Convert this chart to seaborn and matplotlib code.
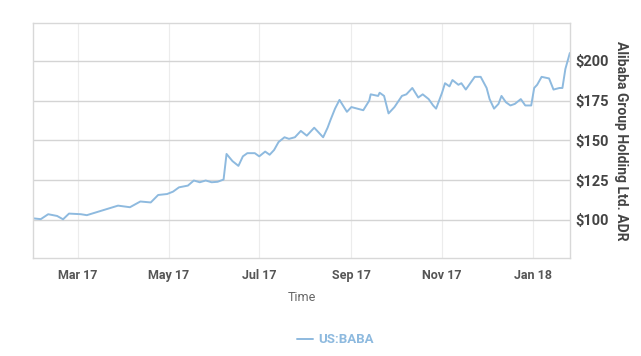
import pandas as pd
import matplotlib
matplotlib.use("Agg")
import matplotlib.pyplot as plt
import matplotlib.dates as mdates
from matplotlib.ticker import FixedLocator, FuncFormatter
import seaborn as sns

# values (US:BABA close, USD)
dates = ["2017-01-30", "2017-02-04", "2017-02-09", "2017-02-15", "2017-02-19", "2017-02-23",
         "2017-03-03", "2017-03-07", "2017-03-14", "2017-03-21", "2017-03-28", "2017-04-05",
         "2017-04-12", "2017-04-19", "2017-04-24", "2017-04-30", "2017-05-04", "2017-05-08",
         "2017-05-14", "2017-05-18", "2017-05-22", "2017-05-26", "2017-05-30", "2017-06-03",
         "2017-06-07", "2017-06-09", "2017-06-13", "2017-06-17", "2017-06-20", "2017-06-23",
         "2017-06-28", "2017-07-01", "2017-07-05", "2017-07-08", "2017-07-11", "2017-07-14",
         "2017-07-18", "2017-07-21", "2017-07-25", "2017-07-29", "2017-08-02", "2017-08-07",
         "2017-08-13", "2017-08-16", "2017-08-18", "2017-08-21", "2017-08-24", "2017-08-29",
         "2017-09-01", "2017-09-09", "2017-09-13", "2017-09-14", "2017-09-19", "2017-09-20",
         "2017-09-23", "2017-09-26", "2017-09-30", "2017-10-05", "2017-10-08", "2017-10-12",
         "2017-10-16", "2017-10-19", "2017-10-23", "2017-10-26", "2017-10-28", "2017-11-01",
         "2017-11-03", "2017-11-06", "2017-11-08", "2017-11-12", "2017-11-14", "2017-11-17",
         "2017-11-20", "2017-11-23", "2017-11-27", "2017-12-01", "2017-12-03", "2017-12-06",
         "2017-12-09", "2017-12-11", "2017-12-14", "2017-12-17", "2017-12-20", "2017-12-24",
         "2017-12-27", "2017-12-31", "2018-01-02", "2018-01-04", "2018-01-07", "2018-01-12",
         "2018-01-15", "2018-01-19", "2018-01-21", "2018-01-23", "2018-01-26"]
prices = [101.0, 100.5, 103.6, 102.5, 100.4, 104.0,
          103.6, 103.0, 105.0, 107.0, 109.0, 108.0,
          111.6, 111.0, 115.7, 116.3, 117.8, 120.5,
          121.6, 124.8, 123.7, 124.8, 123.7, 124.0,
          125.4, 141.5, 137.0, 134.0, 140.0, 142.0,
          142.0, 140.0, 143.0, 141.0, 144.0, 149.0,
          152.0, 151.0, 152.0, 156.0, 153.0, 158.0,
          152.0, 158.0, 163.0, 170.0, 175.5, 168.0,
          171.0, 169.0, 175.0, 179.0, 178.0, 180.0,
          178.0, 167.0, 171.0, 178.0, 179.0, 183.0,
          177.0, 179.0, 176.0, 172.0, 170.0, 180.0,
          186.0, 184.0, 188.0, 185.0, 186.0, 182.0,
          186.0, 190.0, 190.0, 183.0, 176.0, 170.0,
          173.0, 178.0, 174.0, 172.0, 173.0, 176.0,
          172.0, 172.0, 183.0, 185.0, 190.0, 189.0,
          182.0, 183.0, 183.0, 195.0, 205.0]
y_ticks = [100, 125, 150, 175, 200]
x_ticks = ["2017-03-01", "2017-05-01", "2017-07-01", "2017-09-01", "2017-11-01", "2018-01-01"]
series_name = "US:BABA"

df = pd.DataFrame({"Time": pd.to_datetime(dates), "Price": prices})

sns.set_style("white")
plt.rcParams["font.family"] = ["Roboto", "DejaVu Sans"]

line_color = "#8ebadf"
text_color = "#555555"

fig = plt.figure(figsize=(6.41, 3.56), dpi=100)
ax = fig.add_axes([0.052, 0.275, 0.837, 0.661])

sns.lineplot(data=df, x="Time", y="Price", ax=ax, color=line_color, linewidth=1.4,
             label=series_name, legend=False)

ax.set_xlim(pd.Timestamp("2017-01-30"), pd.Timestamp("2018-01-26"))
ax.set_ylim(76, 224)

# y axis on the right
ax.yaxis.tick_right()
ax.yaxis.set_label_position("right")
ax.yaxis.set_major_locator(FixedLocator(y_ticks))
ax.yaxis.set_major_formatter(FuncFormatter(lambda v, p: f"${v:.0f}"))
ax.tick_params(axis="y", length=0, pad=4, labelsize=10.5, labelcolor="#444444")
for lab in ax.get_yticklabels():
    lab.set_fontweight("bold")
ax.set_ylabel("Alibaba Group Holding Ltd. ADR", rotation=270, labelpad=14,
              fontsize=10, fontweight="bold", color="#444444")

ax.xaxis.set_major_locator(FixedLocator(mdates.date2num(pd.to_datetime(x_ticks))))
ax.xaxis.set_major_formatter(mdates.DateFormatter("%b %y"))
ax.tick_params(axis="x", direction="in", length=5, color="#bbbbbb", pad=8,
               labelsize=9, labelcolor=text_color)
for lab in ax.get_xticklabels():
    lab.set_fontweight("bold")
ax.set_xlabel("Time", fontsize=9, color="#666666", labelpad=6)

# grid: darker horizontal, faint vertical
ax.grid(axis="y", color="#d4d4d4", linewidth=1.0)
ax.grid(axis="x", color="#ececec", linewidth=0.8)
ax.set_axisbelow(True)
for s in ax.spines.values():
    s.set_color("#d8d8d8")
    s.set_linewidth(1.0)

handles, labels = ax.get_legend_handles_labels()
leg = fig.legend(handles, labels, loc="center", bbox_to_anchor=(0.523, 0.045),
                 frameon=False, handlelength=1.2, handletextpad=0.4, fontsize=9.5)
for t in leg.get_texts():
    t.set_color(line_color)
    t.set_fontweight("bold")

fig.savefig("out.png", dpi=100)
